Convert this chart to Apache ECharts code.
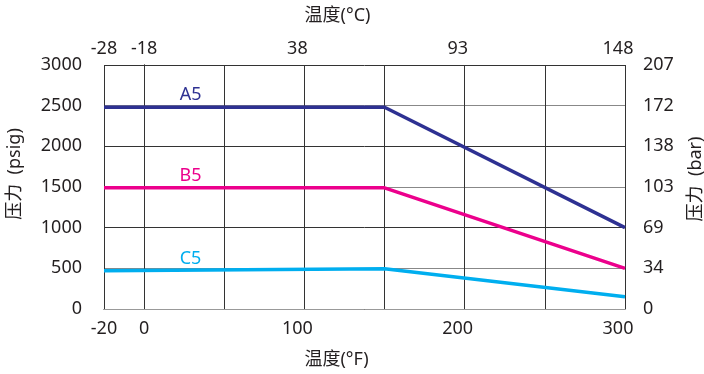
<!DOCTYPE html>
<html>
<head>
<meta charset="utf-8">
<script src="https://cdn.jsdelivr.net/npm/echarts@6/dist/echarts.min.js"></script>
<style>
  html, body { margin: 0; padding: 0; background: #fff; }
  #chart { width: 704px; height: 374px; }
</style>
</head>
<body>
<div id="chart"></div>
<script>
// left edge of the chart is labelled -20 °F but sits where -25 falls on the linear scale
const tempF = [-25, 150, 300];
const a5 = [2480, 2480, 1000];
const b5 = [1490, 1490, 500];
const c5 = [470, 495, 150];

const seriesNames = ["A5", "B5", "C5"];
const seriesColors = ["#2e3192", "#ec008c", "#00aeef"];
const labelAtF = 29;

const fTickValues = [-25, 0, 100, 200, 300];
const fTickLabels = ["-20", "0", "100", "200", "300"];
const cTickLabels = ["-28", "-18", "38", "93", "148"];
const barTickLabels = ["0", "34", "69", "103", "138", "172", "207"];

const font = "'Noto Sans', 'Noto Sans CJK SC', sans-serif";
const textColor = "#231f20";
const fs = 18;

function tickLabel(labels) {
  return (v) => {
    const i = fTickValues.indexOf(Math.round(v));
    if (i < 0) return "";
    // labels after 0 sit a little left of their grid line
    return i >= 2 ? "{s|" + labels[i] + "}" : labels[i];
  };
}
const shiftRich = { s: { fontFamily: font, fontSize: fs, color: textColor, padding: [0, 14, 0, 0] } };

const chart = echarts.init(document.getElementById("chart"));

const lineSeries = [a5, b5, c5].map((vals, k) => ({
  name: seriesNames[k],
  type: "line",
  xAxisIndex: 0,
  yAxisIndex: 0,
  symbol: "none",
  data: tempF.map((t, i) => [t, vals[i]]),
  lineStyle: { color: seriesColors[k], width: 3.5 },
  markPoint: {
    symbol: "circle",
    symbolSize: 0,
    data: [{ name: seriesNames[k], coord: [labelAtF, vals[0]] }],
    label: {
      show: true,
      formatter: "{b}",
      position: "inside",
      offset: [0, -12],
      fontFamily: font,
      fontSize: fs,
      color: seriesColors[k]
    }
  }
}));

chart.setOption({
  animation: false,
  grid: { left: 104, right: 79, top: 65, bottom: 65, outerBoundsMode: "none" },
  textStyle: { fontFamily: font, color: textColor },
  xAxis: [
    {
      type: "value",
      position: "bottom",
      min: -25,
      max: 300,
      name: "温度(°F)",
      nameLocation: "middle",
      nameGap: 42,
      nameTextStyle: { fontFamily: font, fontSize: fs, color: textColor, padding: [0, 56, 0, 0] },
      axisLine: { show: true, lineStyle: { color: "#333", width: 1 } },
      axisTick: { show: false },
      axisLabel: { fontFamily: font, fontSize: fs, color: textColor, margin: 11, formatter: tickLabel(fTickLabels), rich: shiftRich },
      splitLine: { show: true, lineStyle: { color: "#333", width: 1 } }
    },
    {
      type: "value",
      position: "top",
      min: -25,
      max: 300,
      name: "温度(°C)",
      nameLocation: "middle",
      nameGap: 40,
      nameTextStyle: { fontFamily: font, fontSize: fs, color: textColor, padding: [0, 54, 0, 0] },
      axisLine: { show: true, lineStyle: { color: "#999", width: 1 } },
      axisTick: { show: false },
      axisLabel: { fontFamily: font, fontSize: fs, color: textColor, margin: 7, formatter: tickLabel(cTickLabels), rich: shiftRich },
      splitLine: { show: false }
    }
  ],
  yAxis: [
    {
      type: "value",
      position: "left",
      min: 0,
      max: 3000,
      interval: 500,
      name: "压力  (psig)",
      nameLocation: "middle",
      nameRotate: 90,
      nameGap: 80,
      nameTextStyle: { fontFamily: font, fontSize: fs, color: textColor, padding: [0, 0, 0, 26] },
      axisLine: { show: true, lineStyle: { color: "#333", width: 1 } },
      axisTick: { show: false },
      axisLabel: { fontFamily: font, fontSize: fs, color: textColor, margin: 22, formatter: (v) => String(v) },
      splitLine: { show: true, lineStyle: { color: ["#333", "#888"], width: 1 } }
    },
    {
      type: "value",
      position: "right",
      min: 0,
      max: 3000,
      interval: 500,
      name: "压力  (bar)",
      nameLocation: "middle",
      nameRotate: 90,
      nameGap: 62,
      nameTextStyle: { fontFamily: font, fontSize: fs, color: textColor, padding: [0, 0, 0, 16] },
      axisLine: { show: true, lineStyle: { color: "#333", width: 1 } },
      axisTick: { show: false },
      axisLabel: { fontFamily: font, fontSize: fs, color: textColor, margin: 18, formatter: (v) => barTickLabels[Math.round(v / 500)] },
      splitLine: { show: false }
    }
  ],
  series: lineSeries
});
</script>
</body>
</html>
